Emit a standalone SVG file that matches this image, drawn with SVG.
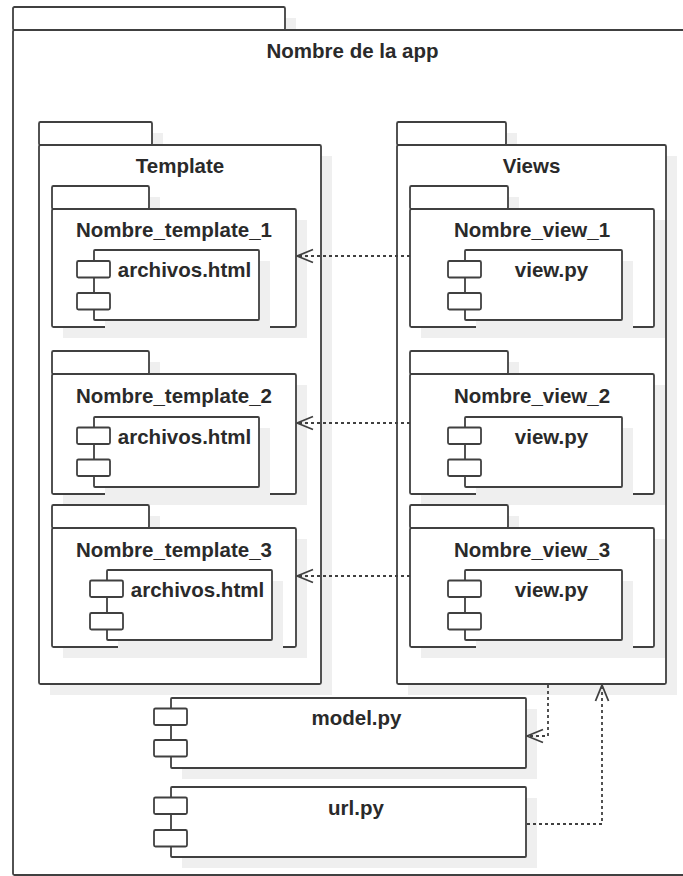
<svg xmlns="http://www.w3.org/2000/svg" width="683" height="876" viewBox="0 0 683 876">
  <style>
    .sh { fill: #efefef; stroke: none; }
    .box { fill: #ffffff; stroke: #404040; stroke-width: 1.8; stroke-linejoin: round; }
    .lbl { font-family: "Liberation Sans", Arial, sans-serif; font-size: 20.5px; font-weight: bold; fill: #2a2a2a; text-anchor: middle; }
    .dep { fill: none; stroke: #404040; stroke-width: 1.8; stroke-dasharray: 3 3; }
  </style>
  <defs>
    <!-- open arrowhead for dependency connectors -->
    <marker id="open" markerUnits="userSpaceOnUse" markerWidth="18" markerHeight="15" viewBox="0 0 18 15" refX="17" refY="7.5" orient="auto" overflow="visible">
      <path d="M1,1 L17,7.5 L1,14" fill="none" stroke="#404040" stroke-width="1.8" stroke-linejoin="round"/>
    </marker>
  </defs>
  <rect width="683" height="876" fill="#ffffff"/>

  <!-- outer package: application -->
  <g id="app">
    <rect class="sh" x="24" y="18" width="272" height="23"/>
    <rect class="box" x="13" y="7" width="272" height="23" rx="1.5"/>
    <rect class="box" x="13" y="30" width="700" height="845" rx="1.5"/>
    <text class="lbl" x="352.5" y="58">Nombre de la app</text>
  </g>

  <!-- package: Template -->
  <g id="template">
    <rect class="sh" x="50" y="133" width="113" height="23"/>
    <rect class="sh" x="50" y="156" width="282" height="539"/>
    <rect class="box" x="39" y="122" width="113" height="23" rx="1.5"/>
    <rect class="box" x="39" y="145" width="282" height="539" rx="1.5"/>
    <text class="lbl" x="180" y="173">Template</text>
  </g>

  <!-- package: Views -->
  <g id="views">
    <rect class="sh" x="408" y="133" width="109" height="23"/>
    <rect class="sh" x="408" y="156" width="269" height="539"/>
    <rect class="box" x="397" y="122" width="109" height="23" rx="1.5"/>
    <rect class="box" x="397" y="145" width="269" height="539" rx="1.5"/>
    <text class="lbl" x="531.5" y="173">Views</text>
  </g>

  <!-- template sub-packages -->
  <g id="template1">
    <rect class="sh" x="63" y="197" width="97" height="23"/>
    <rect class="sh" x="63" y="220" width="244" height="118"/>
    <rect class="box" x="52" y="186" width="97" height="23" rx="1.5"/>
    <rect class="box" x="52" y="209" width="244" height="118" rx="1.5"/>
    <text class="lbl" x="174" y="237">Nombre_template_1</text>
    <rect class="sh" x="105" y="261" width="165" height="70"/>
    <rect class="box" x="94" y="250" width="165" height="70" rx="1"/>
    <rect class="box" x="77" y="261" width="33" height="16.5" rx="1.5"/>
    <rect class="box" x="77" y="293" width="33" height="16.5" rx="1.5"/>
    <text class="lbl" x="184.5" y="277">archivos.html</text>
  </g>

  <g id="template2">
    <rect class="sh" x="63" y="362" width="97" height="23"/>
    <rect class="sh" x="63" y="385" width="244" height="120"/>
    <rect class="box" x="52" y="351" width="97" height="23" rx="1.5"/>
    <rect class="box" x="52" y="374" width="244" height="120" rx="1.5"/>
    <text class="lbl" x="174" y="403">Nombre_template_2</text>
    <rect class="sh" x="105" y="428" width="165" height="70"/>
    <rect class="box" x="94" y="417" width="165" height="70" rx="1"/>
    <rect class="box" x="77" y="427.5" width="33" height="16.5" rx="1.5"/>
    <rect class="box" x="77" y="459.5" width="33" height="16.5" rx="1.5"/>
    <text class="lbl" x="184.5" y="443.5">archivos.html</text>
  </g>

  <g id="template3">
    <rect class="sh" x="63" y="516" width="97" height="23"/>
    <rect class="sh" x="63" y="539" width="244" height="119"/>
    <rect class="box" x="52" y="505" width="97" height="23" rx="1.5"/>
    <rect class="box" x="52" y="528" width="244" height="119" rx="1.5"/>
    <text class="lbl" x="174" y="557">Nombre_template_3</text>
    <rect class="sh" x="118" y="581" width="165" height="70"/>
    <rect class="box" x="107" y="570" width="165" height="70" rx="1"/>
    <rect class="box" x="90" y="580.5" width="33" height="16.5" rx="1.5"/>
    <rect class="box" x="90" y="613" width="33" height="16.5" rx="1.5"/>
    <text class="lbl" x="197.5" y="597">archivos.html</text>
  </g>

  <!-- view sub-packages -->
  <g id="view1">
    <rect class="sh" x="421" y="197" width="98" height="23"/>
    <rect class="sh" x="421" y="220" width="244" height="118"/>
    <rect class="box" x="410" y="186" width="98" height="23" rx="1.5"/>
    <rect class="box" x="410" y="209" width="244" height="118" rx="1.5"/>
    <text class="lbl" x="532" y="237">Nombre_view_1</text>
    <rect class="sh" x="476" y="261" width="157" height="70"/>
    <rect class="box" x="465" y="250" width="157" height="70" rx="1"/>
    <rect class="box" x="448" y="261" width="33" height="16.5" rx="1.5"/>
    <rect class="box" x="448" y="293" width="33" height="16.5" rx="1.5"/>
    <text class="lbl" x="551.5" y="277">view.py</text>
  </g>

  <g id="view2">
    <rect class="sh" x="421" y="362" width="98" height="23"/>
    <rect class="sh" x="421" y="385" width="244" height="120"/>
    <rect class="box" x="410" y="351" width="98" height="23" rx="1.5"/>
    <rect class="box" x="410" y="374" width="244" height="120" rx="1.5"/>
    <text class="lbl" x="532" y="403">Nombre_view_2</text>
    <rect class="sh" x="476" y="428" width="157" height="70"/>
    <rect class="box" x="465" y="417" width="157" height="70" rx="1"/>
    <rect class="box" x="448" y="427.5" width="33" height="16.5" rx="1.5"/>
    <rect class="box" x="448" y="459.5" width="33" height="16.5" rx="1.5"/>
    <text class="lbl" x="551.5" y="443.5">view.py</text>
  </g>

  <g id="view3">
    <rect class="sh" x="421" y="516" width="98" height="23"/>
    <rect class="sh" x="421" y="539" width="244" height="119"/>
    <rect class="box" x="410" y="505" width="98" height="23" rx="1.5"/>
    <rect class="box" x="410" y="528" width="244" height="119" rx="1.5"/>
    <text class="lbl" x="532" y="557">Nombre_view_3</text>
    <rect class="sh" x="476" y="581" width="157" height="70"/>
    <rect class="box" x="465" y="570" width="157" height="70" rx="1"/>
    <rect class="box" x="448" y="580.5" width="33" height="16.5" rx="1.5"/>
    <rect class="box" x="448" y="613" width="33" height="16.5" rx="1.5"/>
    <text class="lbl" x="551.5" y="597">view.py</text>
  </g>

  <!-- stand-alone components -->
  <g id="model">
    <rect class="sh" x="182" y="709" width="355" height="70"/>
    <rect class="box" x="171" y="698" width="355" height="70" rx="1"/>
    <rect class="box" x="154" y="708.5" width="33" height="16.5" rx="1.5"/>
    <rect class="box" x="154" y="740" width="33" height="16.5" rx="1.5"/>
    <text class="lbl" x="356.5" y="724.5">model.py</text>
  </g>

  <g id="url">
    <rect class="sh" x="182" y="798" width="355" height="70"/>
    <rect class="box" x="171" y="787" width="355" height="70" rx="1"/>
    <rect class="box" x="154" y="797.5" width="33" height="16.5" rx="1.5"/>
    <rect class="box" x="154" y="830" width="33" height="16.5" rx="1.5"/>
    <text class="lbl" x="356" y="814.5">url.py</text>
  </g>

  <!-- dependency connectors -->
  <g id="connectors">
    <path class="dep" d="M410,256 H297" marker-end="url(#open)"/>
    <path class="dep" d="M410,423 H297" marker-end="url(#open)"/>
    <path class="dep" d="M410,576 H297" marker-end="url(#open)"/>
    <path class="dep" d="M548,685 V736 H527" marker-end="url(#open)"/>
    <path class="dep" d="M527,824 H602 V685" marker-end="url(#open)"/>
  </g>
</svg>
